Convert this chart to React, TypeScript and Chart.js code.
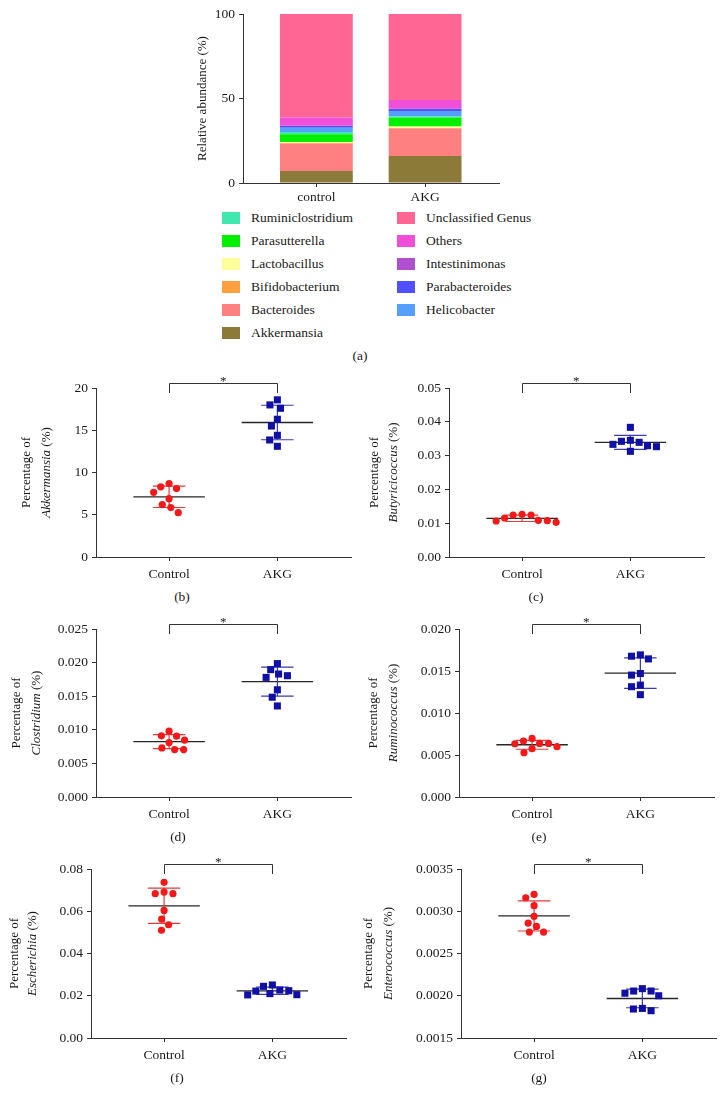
import React, { useEffect, useRef } from 'react';
import { Chart, registerables } from 'chart.js';

Chart.register(...registerables);

const FONT = "'Liberation Serif', 'Times New Roman', serif";
Chart.defaults.font.family = FONT;
Chart.defaults.font.size = 13;
Chart.defaults.color = '#1a1a1a';

// ---------- Panel (a): relative abundance ----------
const abundanceGroups = ['control', 'AKG'];
const genera = [
  'Akkermansia', 'Bacteroides', 'Bifidobacterium', 'Lactobacillus', 'Parasutterella',
  'Ruminiclostridium', 'Helicobacter', 'Parabacteroides', 'Intestinimonas', 'Others', 'Unclassified Genus',
];
const abundanceControl = [7.1, 16.2, 0.3, 0.7, 4.5, 1.4, 2.5, 1.0, 0.2, 4.8, 61.3];
const abundanceAKG = [16.0, 16.2, 0.4, 0.9, 5.2, 0.6, 3.3, 1.2, 0.2, 5.1, 50.9];
const abundanceTicks = [0, 50, 100];
const generaColors = [
  '#8b7a38', '#ff8080', '#ffa040', '#ffff99', '#00f000',
  '#40e8b0', '#55a0ff', '#5050ff', '#b050d0', '#f050d8', '#ff6694',
];

// ---------- Panels (b)-(g): genus percentages ----------
const groups = ['Control', 'AKG'];
const akkermansiaControl = [8.7, 8.1, 7.65, 8.3, 6.9, 6.2, 5.85, 5.25];
const akkermansiaAKG = [18.0, 18.6, 17.6, 16.3, 15.5, 14.4, 13.85, 13.1];
const butyricicoccusControl = [0.01243, 0.01154, 0.01075, 0.01026, 0.01065, 0.01085, 0.01243, 0.01262];
const butyricicoccusAKG = [0.03393, 0.03294, 0.03126, 0.03836, 0.03452, 0.03264, 0.03333, 0.03422];
const clostridiumControl = [0.00845, 0.0091, 0.00905, 0.0098, 0.0081, 0.0073, 0.00705, 0.00705];
const clostridiumAKG = [0.01985, 0.01895, 0.0183, 0.01805, 0.0178, 0.01595, 0.01485, 0.01355];
const ruminococcusControl = [0.00638, 0.00599, 0.00697, 0.00528, 0.00575, 0.00666, 0.00634, 0.00638];
const ruminococcusAKG = [0.01692, 0.01644, 0.01676, 0.0147, 0.01451, 0.01332, 0.01313, 0.01218];
const escherichiaControl = [0.0737, 0.0691, 0.0683, 0.0683, 0.0604, 0.0563, 0.0536, 0.051];
const escherichiaAKG = [0.02446, 0.0224, 0.021, 0.0204, 0.0205, 0.0222, 0.0227, 0.0251];
const enterococcusControl = [0.0032, 0.00316, 0.003066, 0.00294, 0.00282, 0.00286, 0.002754, 0.002754];
const enterococcusAKG = [0.002056, 0.00203, 0.002084, 0.002056, 0.002, 0.00185, 0.001843, 0.001823];

// y axis ranges [min, max, step, decimals]
const akkermansiaAxis = [0, 20, 5, 0];
const butyricicoccusAxis = [0, 0.05, 0.01, 2];
const clostridiumAxis = [0, 0.025, 0.005, 3];
const ruminococcusAxis = [0, 0.02, 0.005, 3];
const escherichiaAxis = [0, 0.08, 0.02, 2];
const enterococcusAxis = [0.0015, 0.0035, 0.0005, 4];

const X_MIN = -0.675;
const X_MAX = 1.68;
const AXIS_COLOR = '#333';
const TICK_SIZE = 13.5;

function meanSd(v: number[]) {
  const m = v.reduce((a, b) => a + b, 0) / v.length;
  const s = Math.sqrt(v.reduce((a, b) => a + (b - m) * (b - m), 0) / (v.length - 1));
  return [m, s];
}

function swarm(py: number[], d: number) {
  const idx = py.map((_, i) => i).sort((a, b) => py[a] - py[b]);
  const placed: { x: number; y: number }[] = [];
  const out = new Array(py.length).fill(0);
  for (const i of idx) {
    const y = py[i];
    const cands = [0];
    for (const p of placed) {
      const dy = Math.abs(p.y - y);
      if (dy < d) {
        const dx = Math.sqrt(d * d - dy * dy);
        cands.push(p.x + dx, p.x - dx);
      }
    }
    cands.sort((a, b) => Math.abs(a) - Math.abs(b) || a - b);
    let best = 0;
    for (const c of cands) {
      if (placed.every((p) => (p.x - c) ** 2 + (p.y - y) ** 2 >= d * d - 0.01)) {
        best = c;
        break;
      }
    }
    placed.push({ x: best, y });
    out[i] = best;
  }
  return out;
}

function drawRotated(ctx: any, x: number, y: number, parts: { t: string; it: boolean }[]) {
  ctx.save();
  ctx.translate(x, y);
  ctx.rotate(-Math.PI / 2);
  ctx.textBaseline = 'middle';
  ctx.textAlign = 'left';
  const fonts = parts.map((p) => `${p.it ? 'italic ' : ''}13px ${FONT}`);
  let total = 0;
  const widths = parts.map((p, i) => {
    ctx.font = fonts[i];
    const w = ctx.measureText(p.t).width;
    total += w;
    return w;
  });
  let cx = -total / 2;
  parts.forEach((p, i) => {
    ctx.font = fonts[i];
    ctx.fillStyle = '#1a1a1a';
    ctx.fillText(p.t, cx, 0);
    cx += widths[i];
  });
  ctx.restore();
}

function errorSets(vals: number[], g: number, sdColor: string) {
  const [m, s] = meanSd(vals);
  const gap = { x: g, y: NaN };
  return [
    {
      data: [{ x: g - 0.15, y: m + s }, { x: g + 0.15, y: m + s }, gap, { x: g, y: m + s }, { x: g, y: m - s }, gap, { x: g - 0.15, y: m - s }, { x: g + 0.15, y: m - s }],
      showLine: true, spanGaps: false, pointRadius: 0, borderColor: sdColor, borderWidth: 1.2,
    },
    {
      data: [{ x: g - 0.33, y: m }, { x: g + 0.33, y: m }],
      showLine: true, spanGaps: false, pointRadius: 0, borderColor: '#262626', borderWidth: 1.3,
    },
  ];
}

function ScatterPanel(props: any) {
  const ref = useRef<HTMLCanvasElement>(null);
  const { genus, control, akg, axis, axisX, topY, bottomY, titleOff, caption, captionX } = props;
  const W = 365;
  const H = bottomY - topY + 60;
  useEffect(() => {
    const [yMin, yMax, step, dec] = axis;
    const deco = {
      id: 'deco',
      afterDraw(chart: any) {
        const { ctx, chartArea: ca, scales } = chart;
        const x0 = scales.x.getPixelForValue(0);
        const x1 = scales.x.getPixelForValue(1);
        ctx.save();
        ctx.strokeStyle = AXIS_COLOR;
        ctx.lineWidth = 1;
        const yt = Math.round(ca.top - 5) + 0.5;
        const yb = ca.top + 5;
        ctx.beginPath();
        ctx.moveTo(Math.round(x0) + 0.5, yb);
        ctx.lineTo(Math.round(x0) + 0.5, yt);
        ctx.lineTo(Math.round(x1) + 0.5, yt);
        ctx.lineTo(Math.round(x1) + 0.5, yb);
        ctx.stroke();
        ctx.fillStyle = '#1a1a1a';
        ctx.font = `13px ${FONT}`;
        ctx.textAlign = 'center';
        ctx.textBaseline = 'alphabetic';
        ctx.fillText('*', (x0 + x1) / 2, yt + 1);
        ctx.restore();
        const cy = (ca.top + ca.bottom) / 2;
        drawRotated(ctx, ca.left + titleOff[0], cy, [{ t: 'Percentage of', it: false }]);
        drawRotated(ctx, ca.left + titleOff[1], cy, [{ t: genus, it: true }, { t: ' (%)', it: false }]);
      },
    };
    const chart = new Chart(ref.current as HTMLCanvasElement, {
      type: 'scatter',
      data: {
        datasets: [
          {
            data: control.map((v: number) => ({ x: 0, y: v })),
            pointStyle: 'circle', pointRadius: 3.6, backgroundColor: '#f41818', borderWidth: 0,
          },
          {
            data: akg.map((v: number) => ({ x: 1, y: v })),
            pointStyle: 'rect', pointRadius: 5, backgroundColor: '#1010a6', borderWidth: 0,
          },
          ...errorSets(control, 0, '#e43a3a'),
          ...errorSets(akg, 1, '#3b3bb4'),
        ] as any,
      },
      options: {
        responsive: false,
        animation: false,
        devicePixelRatio: 1,
        events: [],
        layout: { padding: { left: 0, top: 30, right: 10, bottom: 0 } },
        plugins: { legend: { display: false }, tooltip: { enabled: false } },
        scales: {
          x: {
            type: 'linear', min: X_MIN, max: X_MAX, offset: false,
            afterBuildTicks: (s: any) => { s.ticks = [{ value: 0 }, { value: 1 }]; },
            afterFit: (s: any) => { s.height = 30; },
            ticks: { callback: (v: any) => groups[Math.round(v)], padding: 5, font: { size: TICK_SIZE }, color: '#1a1a1a', maxRotation: 0 },
            grid: { drawOnChartArea: false, drawTicks: true, tickLength: 4, color: AXIS_COLOR, offset: false },
            border: { color: AXIS_COLOR, width: 1 },
          },
          y: {
            type: 'linear', min: yMin, max: yMax,
            afterFit: (s: any) => { s.width = 100; },
            ticks: { stepSize: step, callback: (v: any) => Number(v).toFixed(dec), padding: 4, font: { size: TICK_SIZE }, color: '#1a1a1a' },
            grid: { drawOnChartArea: false, drawTicks: true, tickLength: 4, color: AXIS_COLOR },
            border: { color: AXIS_COLOR, width: 1 },
          },
        },
      } as any,
      plugins: [deco],
    });
    const xs: any = chart.scales.x;
    const ys: any = chart.scales.y;
    const ppu = Math.abs(xs.getPixelForValue(1) - xs.getPixelForValue(0));
    [control, akg].forEach((vals: number[], g: number) => {
      const py = vals.map((v) => ys.getPixelForValue(v));
      const off = swarm(py, 9);
      (chart.data.datasets[g] as any).data = vals.map((v, i) => ({ x: g + off[i] / ppu, y: v }));
    });
    chart.update('none');
    return () => chart.destroy();
  }, []);
  return (
    <>
      <canvas
        ref={ref}
        width={W}
        height={H}
        style={{ position: 'absolute', left: axisX - 100, top: topY - 30, width: W, height: H }}
      />
      <div style={{ position: 'absolute', left: captionX - 30, width: 60, top: bottomY + 40 - 9, lineHeight: '18px', textAlign: 'center', fontSize: 13.5, color: '#1a1a1a' }}>
        {caption}
      </div>
    </>
  );
}

function AbundancePanel() {
  const ref = useRef<HTMLCanvasElement>(null);
  useEffect(() => {
    const deco = {
      id: 'decoA',
      afterDraw(chart: any) {
        const { ctx, chartArea: ca } = chart;
        drawRotated(ctx, ca.left - 40, (ca.top + ca.bottom) / 2, [{ t: 'Relative abundance (%)', it: false }]);
      },
    };
    const chart = new Chart(ref.current as HTMLCanvasElement, {
      type: 'bar',
      data: {
        datasets: genera.map((g, i) => ({
          label: g,
          data: [{ x: 0, y: abundanceControl[i] }, { x: 1, y: abundanceAKG[i] }],
          backgroundColor: generaColors[i],
          borderWidth: 0,
          categoryPercentage: 0.67,
          barPercentage: 1,
        })),
      },
      options: {
        responsive: false,
        animation: false,
        devicePixelRatio: 1,
        events: [],
        layout: { padding: { left: 0, top: 14, right: 15, bottom: 0 } },
        plugins: { legend: { display: false }, tooltip: { enabled: false } },
        scales: {
          x: {
            type: 'linear', min: X_MIN, max: X_MAX, stacked: true, offset: false,
            afterBuildTicks: (s: any) => { s.ticks = [{ value: 0 }, { value: 1 }]; },
            afterFit: (s: any) => { s.height = 25; },
            ticks: { callback: (v: any) => abundanceGroups[Math.round(v)], padding: 2, font: { size: TICK_SIZE }, color: '#1a1a1a', maxRotation: 0 },
            grid: { drawOnChartArea: false, drawTicks: true, tickLength: 4, color: AXIS_COLOR, offset: false },
            border: { color: AXIS_COLOR, width: 1 },
          },
          y: {
            type: 'linear', min: abundanceTicks[0], max: abundanceTicks[abundanceTicks.length - 1], stacked: true,
            afterBuildTicks: (s: any) => { s.ticks = abundanceTicks.map((v) => ({ value: v })); },
            afterFit: (s: any) => { s.width = 60; },
            ticks: { padding: 4, font: { size: TICK_SIZE }, color: '#1a1a1a' },
            grid: { drawOnChartArea: false, drawTicks: true, tickLength: 4, color: AXIS_COLOR },
            border: { color: AXIS_COLOR, width: 1 },
          },
        },
      } as any,
      plugins: [deco],
    });
    return () => chart.destroy();
  }, []);
  const order = genera.map((g, i) => ({ g, c: generaColors[i] })).reverse();
  const right = order.slice(0, 5);
  const left = order.slice(5);
  const item = (it: any, r: number, sx: number, tx: number) => (
    <React.Fragment key={it.g}>
      <div style={{ position: 'absolute', left: sx, top: 218 + r * 23 - 6, width: 18, height: 12, background: it.c }} />
      <div style={{ position: 'absolute', left: tx, top: 218 + r * 23 - 9, lineHeight: '18px', fontSize: 13.5, whiteSpace: 'nowrap' }}>{it.g}</div>
    </React.Fragment>
  );
  return (
    <>
      <canvas ref={ref} width={331} height={208} style={{ position: 'absolute', left: 183, top: 0, width: 331, height: 208 }} />
      {left.map((it, r) => item(it, r, 222, 251))}
      {right.map((it, r) => item(it, r, 397, 426))}
      <div style={{ position: 'absolute', left: 330, width: 60, top: 356 - 9, lineHeight: '18px', textAlign: 'center', fontSize: 13.5 }}>(a)</div>
    </>
  );
}

export default function App() {
  return (
    <div style={{ position: 'absolute', left: 0, top: 0, width: 724, height: 1104, background: '#fff', fontFamily: FONT, color: '#1a1a1a', overflow: 'hidden' }}>
      <AbundancePanel />
      <ScatterPanel genus="Akkermansia" control={akkermansiaControl} akg={akkermansiaAKG} axis={akkermansiaAxis}
        axisX={96} topY={388} bottomY={557} titleOff={[-69, -49]} caption="(b)" captionX={182} />
      <ScatterPanel genus="Butyricicoccus" control={butyricicoccusControl} akg={butyricicoccusAKG} axis={butyricicoccusAxis}
        axisX={449} topY={388} bottomY={557} titleOff={[-74, -55]} caption="(c)" captionX={536} />
      <ScatterPanel genus="Clostridium" control={clostridiumControl} akg={clostridiumAKG} axis={clostridiumAxis}
        axisX={96} topY={629} bottomY={797} titleOff={[-79, -59]} caption="(d)" captionX={178} />
      <ScatterPanel genus="Ruminococcus" control={ruminococcusControl} akg={ruminococcusAKG} axis={ruminococcusAxis}
        axisX={459} topY={629} bottomY={797} titleOff={[-85, -65]} caption="(e)" captionX={539} />
      <ScatterPanel genus="Escherichia" control={escherichiaControl} akg={escherichiaAKG} axis={escherichiaAxis}
        axisX={91} topY={869} bottomY={1038} titleOff={[-76, -58]} caption="(f)" captionX={177} />
      <ScatterPanel genus="Enterococcus" control={enterococcusControl} akg={enterococcusAKG} axis={enterococcusAxis}
        axisX={461} topY={869} bottomY={1038} titleOff={[-92, -72]} caption="(g)" captionX={539} />
    </div>
  );
}
